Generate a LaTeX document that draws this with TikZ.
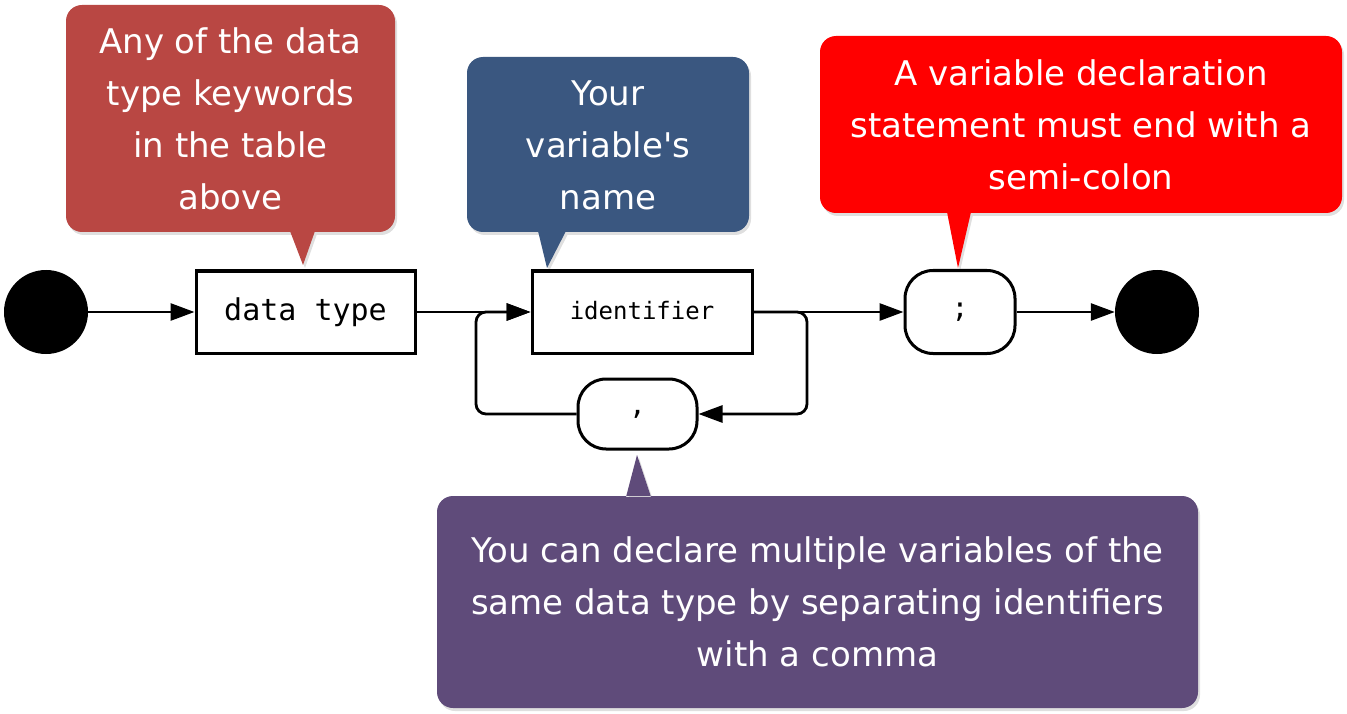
\documentclass[tikz,border=0pt]{standalone}
\usepackage{fontspec}
\setmainfont{DejaVu Sans}
\newfontfamily\notefont{DejaVu Sans}
\newfontfamily\monof{DejaVu Sans Mono}
\usetikzlibrary{arrows.meta,shadows}
\definecolor{cbrown}{RGB}{185,71,67}
\definecolor{cblue}{RGB}{58,87,128}
\definecolor{cred}{RGB}{255,0,0}
\definecolor{cpurple}{RGB}{95,75,122}
\begin{document}
\begin{tikzpicture}[x=1pt,y=-1pt,
  blk/.style={draw=black,line width=3pt,fill=white,inner sep=0pt},
  term/.style={draw=black,line width=3pt,fill=white,rounded corners=28pt,inner sep=0pt,font=\monof\fontsize{28}{34}\selectfont},
  dot/.style={circle,fill=black,minimum size=84pt,inner sep=0pt},
  wire/.style={line width=2.8pt},
  conn/.style={wire,-{Triangle[length=24pt,width=17pt]}},
  bubble/.style={drop shadow={shadow xshift=2pt,shadow yshift=-3pt,opacity=0.25}},
  note/.style={text=white,align=center,font=\notefont\fontsize{34}{52}\selectfont,inner sep=0pt}]
\useasboundingbox (0,0) rectangle (1347,714);

% callouts
\fill[cbrown,bubble] [rounded corners=16pt] (66,5) rectangle (395,232) [sharp corners] (290,231) -- (303,265) -- (315,231) -- cycle;
\fill[cblue,bubble] [rounded corners=16pt] (467,57) rectangle (749,232) [sharp corners] (538,231) -- (547,268) -- (566,231) -- cycle;
\fill[cred,bubble] [rounded corners=16pt] (820,36) rectangle (1342,213) [sharp corners] (947,212) -- (958,268) -- (971,212) -- cycle;
\fill[cpurple,bubble] [rounded corners=16pt] (437,496) rectangle (1198,708) [sharp corners] (626,497) -- (637,455) -- (651,497) -- cycle;

\node[note] (n1) at (230.5,119) {Any of the data\\type keywords\\in the table\\above};
\node[note] (n2) at (608,145) {Your\\variable's\\name};
\node[note] (n3) at (1081,125) {A variable declaration\\statement must end with a\\semi-colon};
\node[note] (n4) at (817.5,602) {You can declare multiple variables of the\\same data type by separating identifiers\\with a comma};

% diagram nodes
\node[dot] (start) at (46,312) {};
\node[blk,minimum width=219pt,minimum height=82pt,font=\monof\fontsize{30}{36}\selectfont] (dtype) at (305.5,312) {data type};
\node[blk,minimum width=220pt,minimum height=82pt,font=\monof\fontsize{24}{30}\selectfont] (ident) at (642,312) {\raisebox{3pt}{identifier}};
\node[term,minimum width=119pt,minimum height=70pt] (comma) at (637.5,414) {,};
\node[term,minimum width=110pt,minimum height=83pt] (semi) at (960,312) {;};
\node[dot] (end) at (1157,312) {};

\coordinate (lr) at (807,414);
\coordinate (ll) at (476,414);

% connectors
\draw[conn] (start) -- (dtype);
\draw[conn] (dtype) -- (ident);
\draw[conn] (ident) -- (semi);
\draw[conn] (semi) -- (end);
\draw[conn,rounded corners=10pt] (ident.east) -| (lr) -- (comma.east);
\draw[conn,rounded corners=10pt] (comma.west) -- (ll) |- (ident.west);
\end{tikzpicture}
\end{document}
